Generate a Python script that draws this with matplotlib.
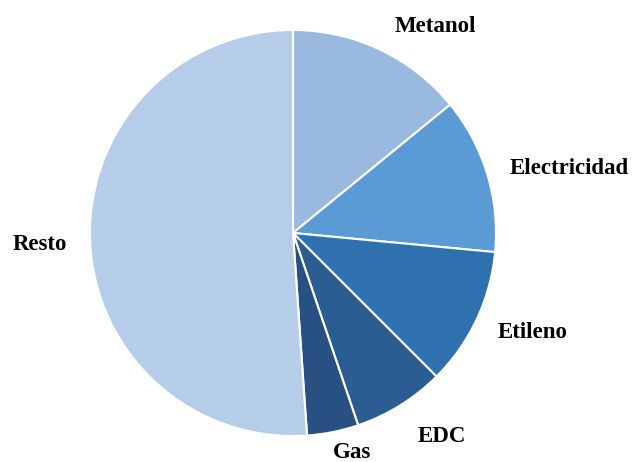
import matplotlib
matplotlib.use("Agg")
import matplotlib.pyplot as plt

# datos (porcentaje aproximado de cada sector)
labels = ["Metanol", "Electricidad", "Etileno", "EDC", "Gas", "Resto"]
values = [14.1, 12.4, 11.0, 7.3, 4.1, 51.1]
colors = ["#9ab9df", "#5b9bd5", "#2e71ae", "#2c5d92", "#285082", "#b5cde9"]

# posiciones de las etiquetas, en pixeles de la figura
label_px = [(435, 26), (569, 168), (533, 333), (442, 436), (352, 453), (40, 245)]

W, H = 632, 462
cx, cy, r = 293, 233, 203

plt.rcParams['font.family'] = ['Liberation Serif', 'DejaVu Serif']

fig = plt.figure(figsize=(W / 100, H / 100), dpi=100)
ax = fig.add_axes([0, 0, 1, 1])
wedges, _ = ax.pie(values, colors=colors, startangle=90, counterclock=False,
                   radius=1, center=(0, 0),
                   wedgeprops=dict(edgecolor="white", linewidth=1.5))
ax.set_xlim(-cx / r, (W - cx) / r)
ax.set_ylim(-(H - cy) / r, cy / r)
ax.set_aspect('auto')
ax.axis('off')

for lab, (px, py) in zip(labels, label_px):
    ax.text(px / W, 1 - py / H, lab, transform=ax.transAxes,
            ha='center', va='center', fontsize=16.5, fontweight='bold')

fig.savefig("out.png", dpi=100)
